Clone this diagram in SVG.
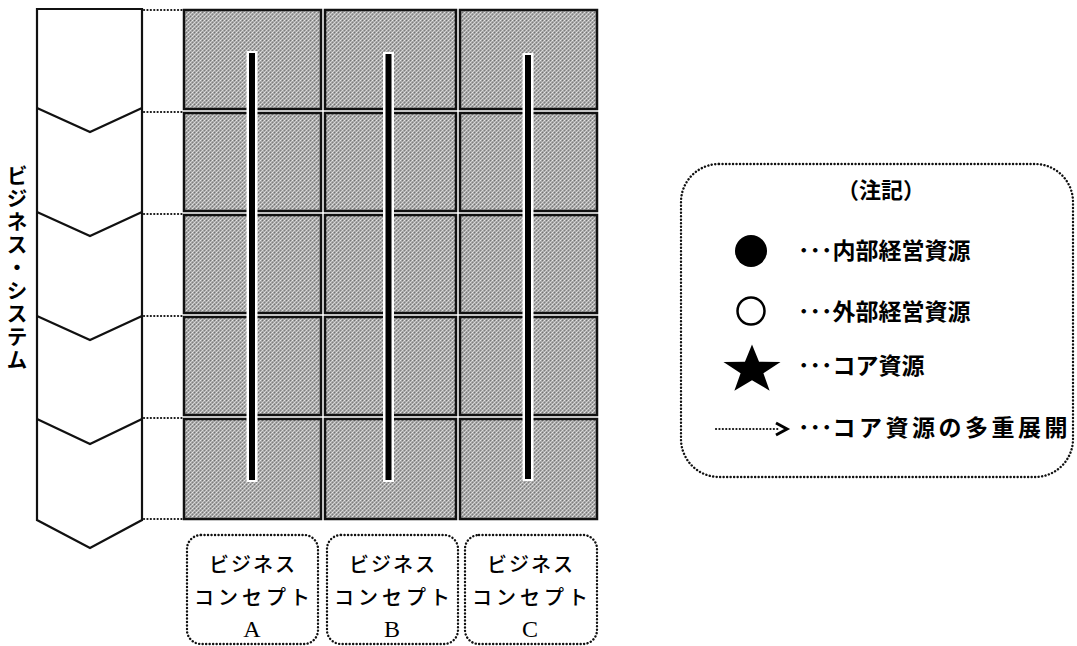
<svg xmlns="http://www.w3.org/2000/svg" width="1077" height="646" viewBox="0 0 1077 646">
<defs>
<pattern id="tex" width="4" height="4" patternUnits="userSpaceOnUse">
<rect width="4" height="4" fill="#a6a6a6"/>
<rect x="0" y="0" width="1" height="1" fill="#e6e6e6"/>
<rect x="2" y="2" width="1" height="1" fill="#dadada"/>
<rect x="2" y="0" width="1" height="1" fill="#747474"/>
<rect x="0" y="2" width="1" height="1" fill="#808080"/>
<rect x="1" y="3" width="1" height="1" fill="#cfcfcf"/>
<rect x="3" y="1" width="1" height="1" fill="#c8c8c8"/>
</pattern>
<style>
.cell{fill:url(#tex);stroke:#111;stroke-width:2.5}
.dot{fill:none;stroke:#111;stroke-width:2.2;stroke-dasharray:0.1 3.3;stroke-linecap:round}
.dbox{fill:none;stroke:#111;stroke-width:2.4;stroke-dasharray:0.1 3.4;stroke-linecap:round}
.chev{fill:#fff;stroke:#111;stroke-width:2.2;stroke-linejoin:miter}
.sep{fill:none;stroke:#111;stroke-width:2.2}
.barw{fill:#fff}
.barb{fill:#000}
.jp{font-family:"Noto Sans CJK JP",sans-serif;fill:#000}
.lg{font-family:"Noto Sans CJK JP",sans-serif;font-weight:bold;font-size:23px;fill:#000}
.cp{font-family:"Noto Sans CJK JP",sans-serif;font-size:20px;font-weight:500;fill:#000;text-anchor:middle}
.lt{font-family:"Liberation Serif",serif;font-size:24px;fill:#000;text-anchor:middle}
</style>
</defs>
<rect width="1077" height="646" fill="#fff"/>

<g id="business-system">
<path class="chev" d="M37,9 L142,9 L142,520 L90,548 L37,520 Z"/>
<path class="sep" d="M37,108 L90,132 L142,108"/>
<path class="sep" d="M37,212 L90,236 L142,212"/>
<path class="sep" d="M37,316 L90,340 L142,316"/>
<path class="sep" d="M37,419 L90,444 L142,419"/>
<text class="jp" x="17" y="268" font-size="21" font-weight="bold" writing-mode="vertical-rl" text-anchor="middle" letter-spacing="2">ビジネス・システム</text>
</g>

<g id="grid">
<rect class="cell" x="184" y="10" width="137" height="99"/>
<rect class="cell" x="325" y="10" width="131" height="99"/>
<rect class="cell" x="460" y="10" width="137" height="99"/>
<rect class="cell" x="184" y="113" width="137" height="98"/>
<rect class="cell" x="325" y="113" width="131" height="98"/>
<rect class="cell" x="460" y="113" width="137" height="98"/>
<rect class="cell" x="184" y="215" width="137" height="98"/>
<rect class="cell" x="325" y="215" width="131" height="98"/>
<rect class="cell" x="460" y="215" width="137" height="98"/>
<rect class="cell" x="184" y="317" width="137" height="98"/>
<rect class="cell" x="325" y="317" width="131" height="98"/>
<rect class="cell" x="460" y="317" width="137" height="98"/>
<rect class="cell" x="184" y="419" width="137" height="100"/>
<rect class="cell" x="325" y="419" width="131" height="100"/>
<rect class="cell" x="460" y="419" width="137" height="100"/>
</g>

<g id="connectors">
<line class="dot" x1="144" y1="10" x2="183" y2="10"/>
<line class="dot" x1="144" y1="112" x2="183" y2="112"/>
<line class="dot" x1="144" y1="214" x2="183" y2="214"/>
<line class="dot" x1="144" y1="316" x2="183" y2="316"/>
<line class="dot" x1="144" y1="418" x2="183" y2="418"/>
<line class="dot" x1="144" y1="519" x2="183" y2="519"/>
<rect class="barw" x="246.5" y="51" width="11" height="431"/>
<rect class="barb" x="249" y="53" width="6" height="427"/>
<rect class="barw" x="383" y="52" width="11" height="430"/>
<rect class="barb" x="385.5" y="54" width="6" height="426"/>
<rect class="barw" x="522.5" y="53" width="11" height="428"/>
<rect class="barb" x="525" y="55" width="6" height="424"/>
</g>

<g id="concept-a">
<rect class="dbox" x="187" y="535" width="131" height="109" rx="14"/>
<text class="cp" x="253" y="572" letter-spacing="2">ビジネス</text>
<text class="cp" x="254" y="605" letter-spacing="4">コンセプト</text>
<text class="lt" x="252" y="637">A</text>
</g>
<g id="concept-b">
<rect class="dbox" x="327" y="535" width="131" height="109" rx="14"/>
<text class="cp" x="393" y="572" letter-spacing="2">ビジネス</text>
<text class="cp" x="394" y="605" letter-spacing="4">コンセプト</text>
<text class="lt" x="392" y="637">B</text>
</g>
<g id="concept-c">
<rect class="dbox" x="465" y="535" width="132" height="109" rx="14"/>
<text class="cp" x="531" y="572" letter-spacing="2">ビジネス</text>
<text class="cp" x="532" y="605" letter-spacing="4">コンセプト</text>
<text class="lt" x="530" y="637">C</text>
</g>

<g id="legend">
<rect class="dbox" x="681" y="164" width="392" height="313" rx="38"/>
<text class="jp" x="881" y="198" font-size="22" font-weight="bold" text-anchor="middle">（注記）</text>
<circle cx="751" cy="251" r="16" fill="#000"/>
<text class="lg" x="798" y="259">･･･内部経営資源</text>
<circle cx="751" cy="311" r="13.5" fill="#fff" stroke="#000" stroke-width="2.5"/>
<text class="lg" x="798" y="320">･･･外部経営資源</text>
<polygon fill="#000" transform="translate(752,370)" points="0,-25.5 7.05,-8.25 28.53,-7.88 11.41,3.15 17.63,20.63 0,10.2 -17.63,20.63 -11.41,3.15 -28.53,-7.88 -7.05,-8.25"/>
<text class="lg" x="798" y="374">･･･コア資源</text>
<line class="dot" x1="716" y1="429" x2="780" y2="429"/>
<polyline points="776,423 787,429 776,435" fill="none" stroke="#000" stroke-width="3"/>
<text class="lg" x="798" y="436">･･･<tspan letter-spacing="3.5">コア資源の多重展開</tspan></text>
</g>
</svg>
